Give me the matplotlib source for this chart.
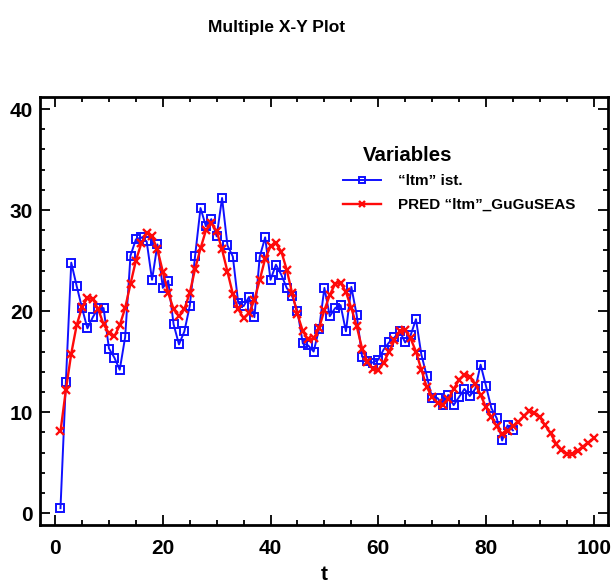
import matplotlib
matplotlib.use("Agg")
import matplotlib.pyplot as plt
from matplotlib import font_manager
from matplotlib.ticker import MultipleLocator

# Observed values ("ltm" ist.) and model prediction over t
t_obs = list(range(1, 86))
ltm_obs = [0.5, 13.0, 24.8, 22.5, 20.3, 18.3, 19.4, 20.3, 20.3, 16.3,
           15.4, 14.2, 17.4, 25.5, 27.1, 27.3, 26.9, 23.1, 26.6, 22.3,
           23.0, 18.7, 16.7, 18.0, 20.5, 25.5, 30.2, 28.4, 29.1, 27.4,
           31.2, 26.5, 25.4, 20.8, 20.5, 21.4, 19.4, 25.4, 27.3, 23.1,
           24.6, 23.6, 22.3, 21.5, 20.0, 16.8, 16.6, 16.0, 18.2, 22.3,
           19.5, 20.3, 20.6, 18.0, 22.4, 19.6, 15.5, 15.1, 14.9, 15.2,
           16.2, 16.9, 17.4, 18.0, 16.9, 17.6, 19.2, 15.7, 13.6, 11.4,
           11.4, 10.7, 11.7, 10.7, 11.5, 12.3, 11.6, 12.3, 14.7, 12.6,
           10.4, 9.4, 7.2, 8.7, 8.2]

t_pred = list(range(1, 101))
ltm_pred = [8.1, 12.2, 15.8, 18.6, 20.4, 21.3, 21.2, 20.2, 18.7, 17.8,
            17.5, 18.6, 20.3, 22.7, 25.0, 26.7, 27.7, 27.4, 26.1, 23.9,
            21.8, 20.2, 19.5, 20.2, 21.8, 24.2, 26.2, 28.0, 28.7, 27.9,
            26.1, 23.9, 21.7, 20.2, 19.3, 19.8, 21.1, 23.1, 25.2, 26.4,
            26.7, 25.9, 24.1, 21.8, 19.7, 18.0, 17.2, 17.3, 18.3, 20.1,
            21.6, 22.7, 22.8, 21.9, 20.3, 18.5, 16.3, 15.0, 14.3, 14.2,
            14.9, 16.0, 17.1, 18.0, 18.1, 17.3, 16.0, 14.2, 12.5, 11.5,
            10.9, 10.7, 11.3, 12.3, 13.2, 13.7, 13.5, 12.8, 11.7, 10.5,
            9.5, 8.6, 7.8, 8.1, 8.6, 9.0, 9.6, 10.1, 9.9, 9.5,
            8.7, 7.9, 6.9, 6.3, 5.9, 5.9, 6.2, 6.6, 7.0, 7.4]

labels = ["\u201cltm\u201d ist.", "PRED \u201cltm\u201d_GuGuSEAS"]
x_ticks = [0, 20, 40, 60, 80, 100]
y_ticks = [0, 10, 20, 30, 40]

installed = {f.name for f in font_manager.fontManager.ttflist}
narrow = "Liberation Sans Narrow" if "Liberation Sans Narrow" in installed else "Liberation Sans"
plt.rcParams["font.family"] = ["Liberation Sans", "DejaVu Sans"]

fig = plt.figure(figsize=(6.11, 5.85), dpi=100)
ax = fig.add_axes([0.0655, 0.1026, 0.9291, 0.7311])

blue = "#1010ff"
red = "#ff0a0a"
l1, = ax.plot(t_obs, ltm_obs, color=blue, lw=1.4, marker="s", ms=5.5,
              mfc="none", mec=blue, mew=1.4)
l2, = ax.plot(t_pred, ltm_pred, color=red, lw=1.7, marker="x", ms=5.5,
              mec=red, mew=1.7)

ax.set_xlim(-2.8, 102.6)
ax.set_ylim(-1.16, 41.16)
ax.set_xticks(x_ticks)
ax.set_yticks(y_ticks)
ax.xaxis.set_minor_locator(MultipleLocator(5))
ax.yaxis.set_minor_locator(MultipleLocator(2))
ax.tick_params(which="both", direction="in", top=True, right=True, width=1.3, color="black")
ax.tick_params(which="major", length=7.5)
ax.tick_params(which="minor", length=3.5)
ax.tick_params(axis="x", which="major", pad=10)
ax.tick_params(axis="y", which="major", pad=5)
for lab in ax.get_xticklabels() + ax.get_yticklabels():
    lab.set_fontfamily([narrow, "DejaVu Sans"])
    lab.set_fontweight("bold")
    lab.set_fontsize(15)
for sp in ax.spines.values():
    sp.set_linewidth(2)

fig.text(0.453, 0.9448, "Multiple X-Y Plot", ha="center", va="baseline",
         fontsize=12.5, fontweight="bold")
fig.text(0.530, 0.008, "t", ha="center", va="baseline", fontsize=15,
         fontweight="bold", family=[narrow, "DejaVu Sans"])

fig.text(363 / 611, 1 - 160.7 / 585, "Variables", ha="left", va="baseline",
         fontsize=14.7, fontweight="bold")
fig.legend([l1, l2], labels, loc="center left", bbox_to_anchor=(343 / 611, 1 - 193 / 585),
           frameon=False, borderpad=0, borderaxespad=0, handlelength=2.5,
           handletextpad=1.1, labelspacing=0.65, markerscale=0.9,
           prop={"weight": "bold", "size": 11})

fig.savefig("out.png", dpi=100)
